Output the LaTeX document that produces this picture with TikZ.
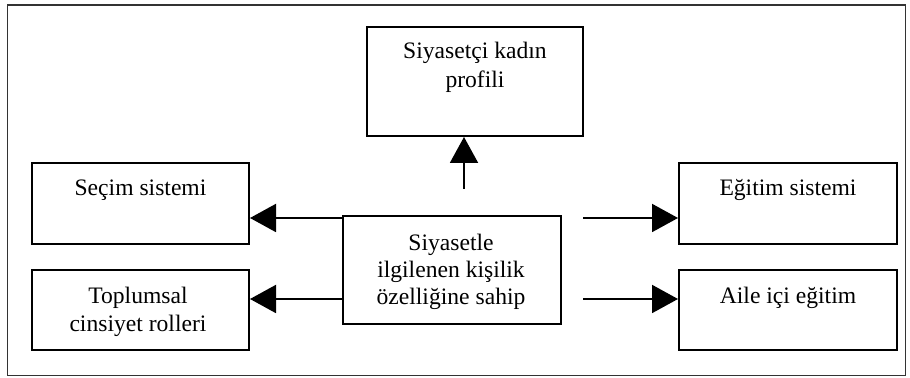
\documentclass[tikz,border=0pt]{standalone}
\usepackage{fontspec}
\setmainfont{Liberation Serif}
\usetikzlibrary{arrows.meta}
\tikzset{
  box/.style={draw, line width=1pt, rectangle, inner sep=0pt},
  mainbox/.style={draw, line width=1.4pt, rectangle, inner sep=0pt},
  txt/.style={anchor=base, inner sep=0pt, font=\fontsize{11.8}{14}\selectfont},
  arr/.style={line width=1pt, -{Triangle[length=13pt,width=14pt]}},
  frame/.style={draw=black!80, line width=0.8pt}
}
\begin{document}
\begin{tikzpicture}[x=0.5pt, y=-0.5pt]
\useasboundingbox (0,0) rectangle (910,378);
\draw[frame] (7.5,5) rectangle (905.5,375.5);

\node[box, minimum width=108pt, minimum height=54.5pt] (top) at (475,81.5) {};
\node[box, minimum width=108.5pt, minimum height=40.5pt] (secim) at (140.5,203.5) {};
\node[box, minimum width=108.5pt, minimum height=40pt] (topl) at (140.5,310) {};
\node[box, minimum width=109pt, minimum height=40.5pt] (egitim) at (788,203.5) {};
\node[box, minimum width=109pt, minimum height=40pt] (aile) at (788,310) {};
\node[mainbox, minimum width=109pt, minimum height=54pt] (center) at (452,270) {};

\node[txt] (t1a) at (475,59) {Siyasetçi kadın};
\node[txt] (t1b) at (475,88) {profili};
\node[txt] (t2) at (140.5,195.7) {Seçim sistemi};
\node[txt] (t3a) at (138,304) {Toplumsal};
\node[txt] (t3b) at (138,332) {cinsiyet rolleri};
\node[txt] (t4) at (788,195.7) {Eğitim sistemi};
\node[txt] (t5) at (788,304) {Aile içi eğitim};
\node[txt] (t6a) at (451,251) {Siyasetle};
\node[txt] (t6b) at (451,278) {ilgilenen kişilik};
\node[txt] (t6c) at (451,305) {özelliğine sahip};

\coordinate (up) at (464,189);
\coordinate (l1) at (343,218);
\coordinate (l2) at (343,299);
\coordinate (r1) at (583,218);
\coordinate (r2) at (583,299);

\draw[arr] (up) -- (top.south -| up);
\draw[arr] (l1) -- (secim.east |- l1);
\draw[arr] (l2) -- (topl.east |- l2);
\draw[arr] (r1) -- (egitim.west |- r1);
\draw[arr] (r2) -- (aile.west |- r2);
\end{tikzpicture}
\end{document}
